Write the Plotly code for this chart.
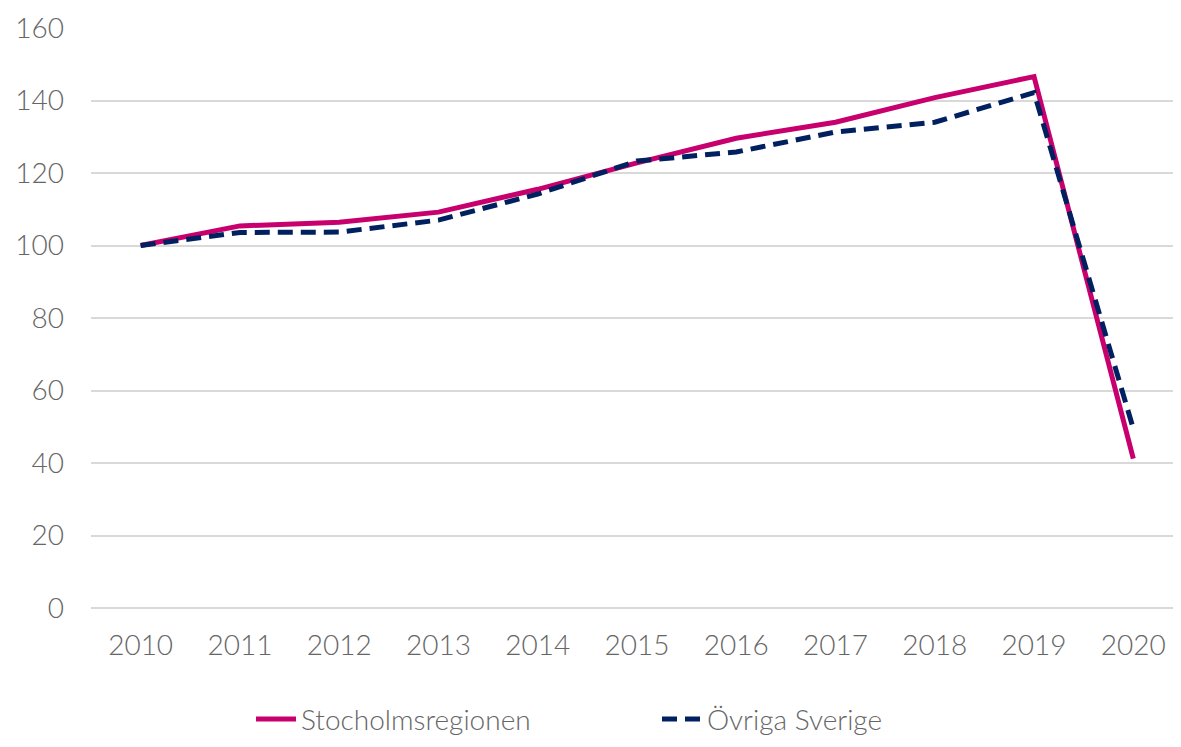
import plotly.graph_objects as go

years = ["2010", "2011", "2012", "2013", "2014", "2015", "2016", "2017", "2018", "2019", "2020"]
stockholm = [100, 105.4, 106.4, 109.2, 115.5, 122.8, 129.6, 134.0, 140.8, 146.6, 41.2]
ovriga = [100, 103.6, 103.7, 107.0, 114.2, 123.3, 125.8, 131.3, 134.0, 142.2, 49.5]
yticks = [0, 20, 40, 60, 80, 100, 120, 140, 160]

font_family = "Lato, 'Open Sans', sans-serif"
grey = "#666666"
fsize = 28

fig = go.Figure()
fig.add_trace(go.Scatter(
    x=years, y=stockholm, mode="lines", name="Stocholmsregionen",
    line=dict(color="#C8006E", width=5),
))
fig.add_trace(go.Scatter(
    x=years, y=ovriga, mode="lines", name="Övriga Sverige",
    line=dict(color="#002060", width=5, dash="15px,8px"),
))

fig.update_layout(
    width=1165, height=731,
    margin=dict(l=83, r=0, t=20, b=131, autoexpand=False),
    paper_bgcolor="white", plot_bgcolor="white",
    font=dict(family=font_family, size=fsize, color=grey, weight=300),
    showlegend=True,
    legend=dict(orientation="h", xref="container", yref="container",
                x=0.2086, xanchor="left", y=0.027, yanchor="middle",
                font=dict(size=fsize, color=grey, weight=300), itemwidth=40,
                entrywidth=351, entrywidthmode="pixels"),
    xaxis=dict(type="category", range=[-0.5, 10.4], showgrid=False, zeroline=False,
               showline=False, ticks="", ticklabelstandoff=18,
               tickfont=dict(size=fsize, color=grey, weight=300)),
    yaxis=dict(range=[0, 160], tickvals=yticks, showgrid=True, gridcolor="#D9D9D9",
               gridwidth=1.5, zeroline=True, zerolinecolor="#D9D9D9", zerolinewidth=1.5,
               showline=False, ticks="", ticklabelstandoff=26,
               tickfont=dict(size=fsize, color=grey, weight=300)),
)

fig.write_html("out.html")
